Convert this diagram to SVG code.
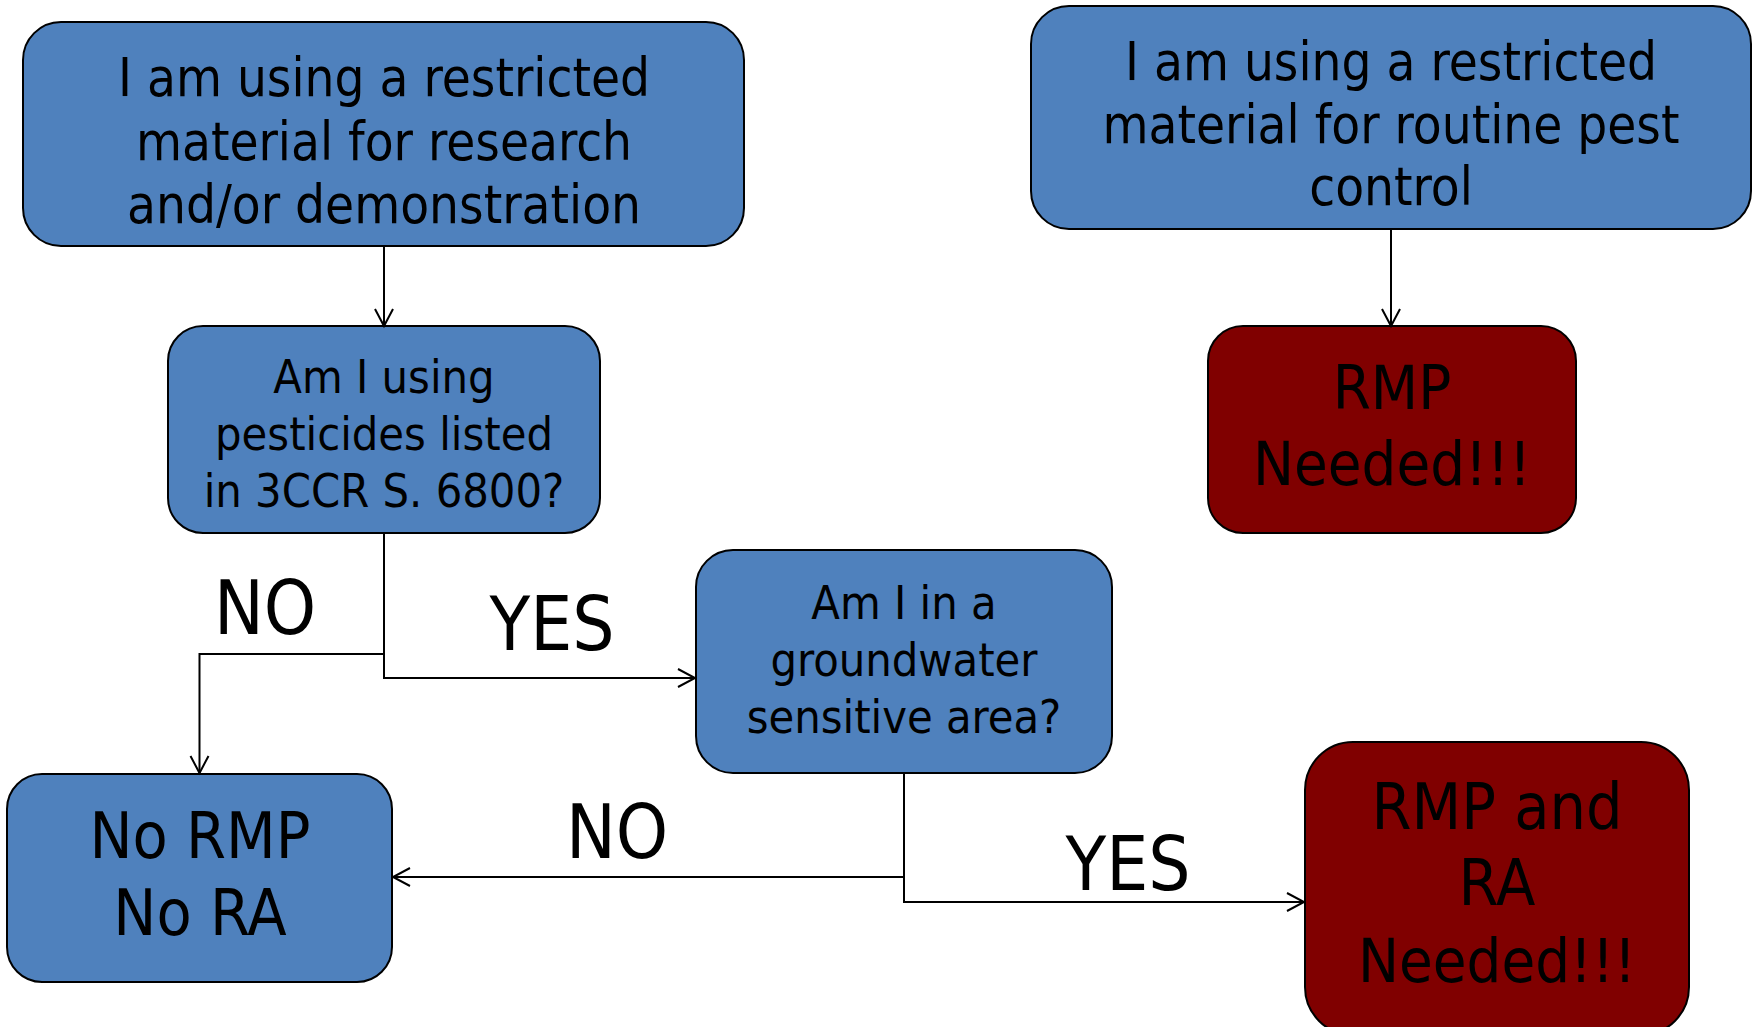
<svg xmlns="http://www.w3.org/2000/svg" width="1754" height="1027" viewBox="0 0 1754 1027">
<defs>
<marker id="arr" markerUnits="userSpaceOnUse" markerWidth="24" markerHeight="24" viewBox="-20 -12 24 24" refX="0" refY="0" orient="auto">
<path d="M-17,-9 L0,0 L-17,9" fill="none" stroke="#000" stroke-width="2"/>
</marker>
</defs>
<style>
.blue{fill:#4F81BD;stroke:#000;stroke-width:2}
.red{fill:#800000;stroke:#000;stroke-width:2}
text{font-family:"DejaVu Sans Condensed","DejaVu Sans",sans-serif;font-stretch:condensed;fill:#000;text-anchor:middle}
.t1{font-size:52.5px}
.t2{font-size:46.5px}
.t3{font-size:61px}
.t4{font-size:64px}
.lbl{font-size:74px}
.conn path{fill:none;stroke:#000;stroke-width:2;marker-end:url(#arr)}
</style>
<g id="n-research">
<rect class="blue" x="23" y="22" width="721" height="224" rx="38"/>
<text class="t1" x="384" y="96">I am using a restricted</text>
<text class="t1" x="384" y="160">material for research</text>
<text class="t1" x="384" y="223">and/or demonstration</text>
</g>
<g id="n-routine">
<rect class="blue" x="1031" y="6" width="720" height="223" rx="38"/>
<text class="t1" x="1391" y="80">I am using a restricted</text>
<text class="t1" x="1391" y="143">material for routine pest</text>
<text class="t1" x="1391" y="205">control</text>
</g>
<g id="n-pesticides">
<rect class="blue" x="168" y="326" width="432" height="207" rx="35"/>
<text class="t2" x="384" y="393">Am I using</text>
<text class="t2" x="384" y="450">pesticides listed</text>
<text class="t2" x="384" y="507">in 3CCR S. 6800?</text>
</g>
<g id="n-rmp">
<rect class="red" x="1208" y="326" width="368" height="207" rx="35"/>
<text class="t3" x="1392" y="409">RMP</text>
<text class="t3" x="1392" y="485">Needed!!!</text>
</g>
<g id="n-groundwater">
<rect class="blue" x="696" y="550" width="416" height="223" rx="37"/>
<text class="t2" x="904" y="619">Am I in a</text>
<text class="t2" x="904" y="676">groundwater</text>
<text class="t2" x="904" y="733">sensitive area?</text>
</g>
<g id="n-normp">
<rect class="blue" x="7" y="774" width="385" height="208" rx="35"/>
<text class="t4" x="200" y="858">No RMP</text>
<text class="t4" x="200" y="935">No RA</text>
</g>
<g id="n-rmpra">
<rect class="red" x="1305" y="742" width="384" height="293" rx="48"/>
<text class="t4" x="1497" y="829">RMP and</text>
<text class="t4" x="1497" y="905">RA</text>
<text class="t3" x="1497" y="982">Needed!!!</text>
</g>
<g id="connectors" class="conn">
<path d="M384,246 V326"/>
<path d="M1391,229 V326"/>
<path d="M384,534 V678 H695"/>
<path d="M384,654 H199.5 V773"/>
<path d="M904,773 V902 H1304"/>
<path d="M904,877 H393"/>
</g>
<g id="labels">
<text class="lbl" x="265" y="634">NO</text>
<text class="lbl" x="552" y="650">YES</text>
<text class="lbl" x="617" y="858">NO</text>
<text class="lbl" x="1128" y="890">YES</text>
</g>
</svg>
